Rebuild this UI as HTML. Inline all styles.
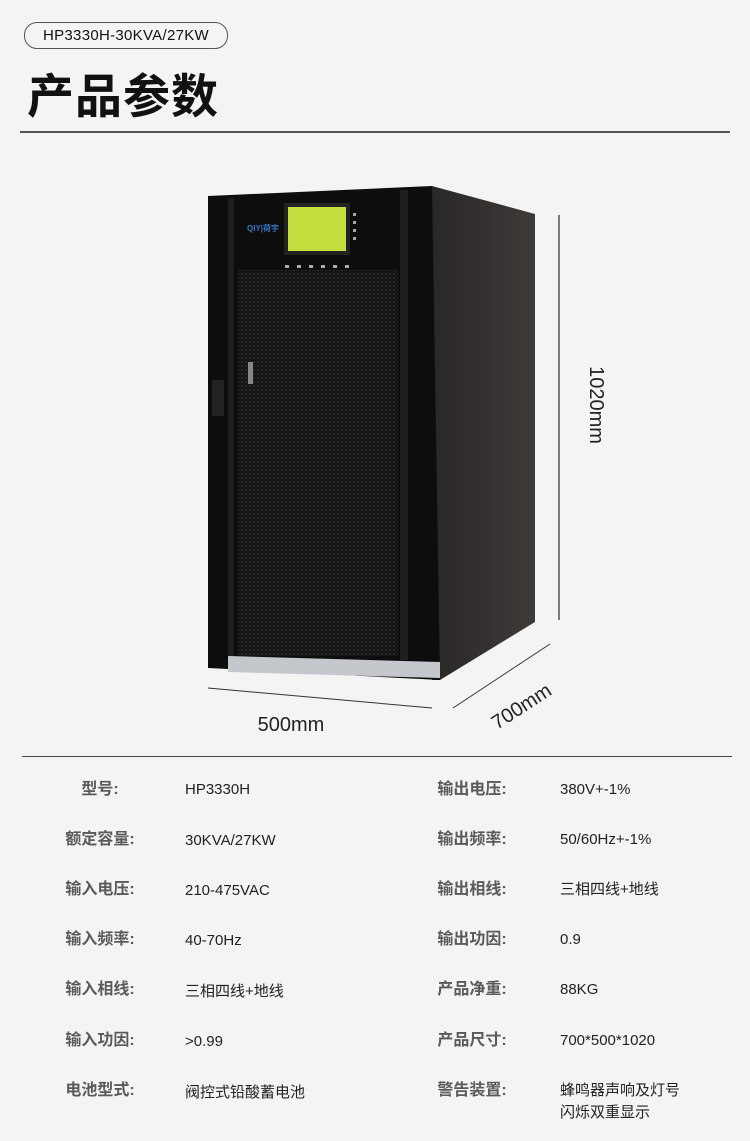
<!DOCTYPE html>
<html><head><meta charset="utf-8"><style>
body{margin:0;width:750px;height:1141px;background:#f5f4f5;position:relative;overflow:hidden;font-family:"Liberation Sans","Noto Sans CJK SC",sans-serif}
.a{position:absolute;white-space:nowrap}
.pill{left:24px;top:22px;width:202px;height:25px;border:1px solid #555;border-radius:13px;font-size:15px;line-height:25px;text-align:center;color:#111;letter-spacing:0.3px}
.t{left:27px;top:58px;font-size:47px;font-weight:bold;color:#111;letter-spacing:1px}
.l{font-size:16px;color:#5a5a5a;font-weight:bold;width:120px;text-align:center;line-height:20px;margin-top:-10px}
.v{font-size:15px;color:#222;line-height:20px;margin-top:-10px}
</style></head><body>
<div class="a pill">HP3330H-30KVA/27KW</div>
<div class="a t">产品参数</div>
<div class="a" style="left:20px;top:131px;width:710px;height:2px;background:#555"></div>
<div class="a" style="left:22px;top:756px;width:710px;height:1px;background:#444"></div>
<svg class="a" style="left:0;top:0" width="750" height="760">
<defs><pattern id="m" width="4" height="4" patternUnits="userSpaceOnUse"><rect width="4" height="4" fill="#151515"/><circle cx="2" cy="2" r="0.9" fill="#333"/></pattern>
<linearGradient id="s" x1="0" x2="1"><stop offset="0" stop-color="#2a2826"/><stop offset="1" stop-color="#3d3a38"/></linearGradient></defs>
<polygon points="432,186 535,214 535,622 440,680 432,680" fill="url(#s)"/>
<polygon points="208,196 432,186 440,680 208,668" fill="#0d0d0d"/>
<rect x="228" y="198" width="6" height="460" fill="#1e1e1e"/>
<rect x="400" y="190" width="8" height="470" fill="#1e1e1e"/>
<rect x="238" y="270" width="160" height="386" fill="url(#m)"/>
<rect x="284" y="203" width="66" height="52" fill="#222"/>
<rect x="288" y="207" width="58" height="44" fill="#c6df3e"/>
<text x="247" y="231" font-size="8" fill="#3a78c8" font-weight="bold">QIY|荷宇</text>
<g fill="#aaa"><rect x="285" y="265" width="4" height="3"/><rect x="297" y="265" width="4" height="3"/><rect x="309" y="265" width="4" height="3"/><rect x="321" y="265" width="4" height="3"/><rect x="333" y="265" width="4" height="3"/><rect x="345" y="265" width="4" height="3"/>
<rect x="353" y="213" width="3" height="3"/><rect x="353" y="221" width="3" height="3"/><rect x="353" y="229" width="3" height="3"/><rect x="353" y="237" width="3" height="3"/></g>
<rect x="248" y="362" width="5" height="22" fill="#888"/>
<rect x="212" y="380" width="12" height="36" fill="#222"/>
<polygon points="228,656 440,662 440,678 228,672" fill="#c4c8cc"/>
<line x1="559" y1="215" x2="559" y2="620" stroke="#555" stroke-width="1.5"/>
<line x1="208" y1="688" x2="432" y2="708" stroke="#333" stroke-width="1"/>
<line x1="453" y1="708" x2="550" y2="644" stroke="#333" stroke-width="1"/>
<text x="291" y="731" font-size="20" fill="#222" text-anchor="middle">500mm</text>
<text transform="translate(590,405) rotate(90)" font-size="20" fill="#222" text-anchor="middle">1020mm</text>
<text transform="translate(525,712) rotate(-33)" font-size="20" fill="#222" text-anchor="middle">700mm</text>
</svg>
<div class="a l" style="left:40px;top:790px">型号:</div><div class="a v" style="left:185px;top:790px">HP3330H</div>
<div class="a l" style="left:40px;top:840px">额定容量:</div><div class="a v" style="left:185px;top:841px">30KVA/27KW</div>
<div class="a l" style="left:40px;top:890px">输入电压:</div><div class="a v" style="left:185px;top:891px">210-475VAC</div>
<div class="a l" style="left:40px;top:940px">输入频率:</div><div class="a v" style="left:185px;top:941px">40-70Hz</div>
<div class="a l" style="left:40px;top:990px">输入相线:</div><div class="a v" style="left:185px;top:992px">三相四线+地线</div>
<div class="a l" style="left:40px;top:1041px">输入功因:</div><div class="a v" style="left:185px;top:1042px">&gt;0.99</div>
<div class="a l" style="left:40px;top:1091px">电池型式:</div><div class="a v" style="left:185px;top:1093px">阀控式铅酸蓄电池</div>
<div class="a l" style="left:412px;top:790px">输出电压:</div><div class="a v" style="left:560px;top:790px">380V+-1%</div>
<div class="a l" style="left:412px;top:840px">输出频率:</div><div class="a v" style="left:560px;top:840px">50/60Hz+-1%</div>
<div class="a l" style="left:412px;top:890px">输出相线:</div><div class="a v" style="left:560px;top:890px">三相四线+地线</div>
<div class="a l" style="left:412px;top:940px">输出功因:</div><div class="a v" style="left:560px;top:940px">0.9</div>
<div class="a l" style="left:412px;top:990px">产品净重:</div><div class="a v" style="left:560px;top:990px">88KG</div>
<div class="a l" style="left:412px;top:1041px">产品尺寸:</div><div class="a v" style="left:560px;top:1041px">700*500*1020</div>
<div class="a l" style="left:412px;top:1091px">警告装置:</div><div class="a v" style="left:560px;top:1091px;line-height:22px;margin-top:-11px">蜂鸣器声响及灯号<br>闪烁双重显示</div>
</body></html>
